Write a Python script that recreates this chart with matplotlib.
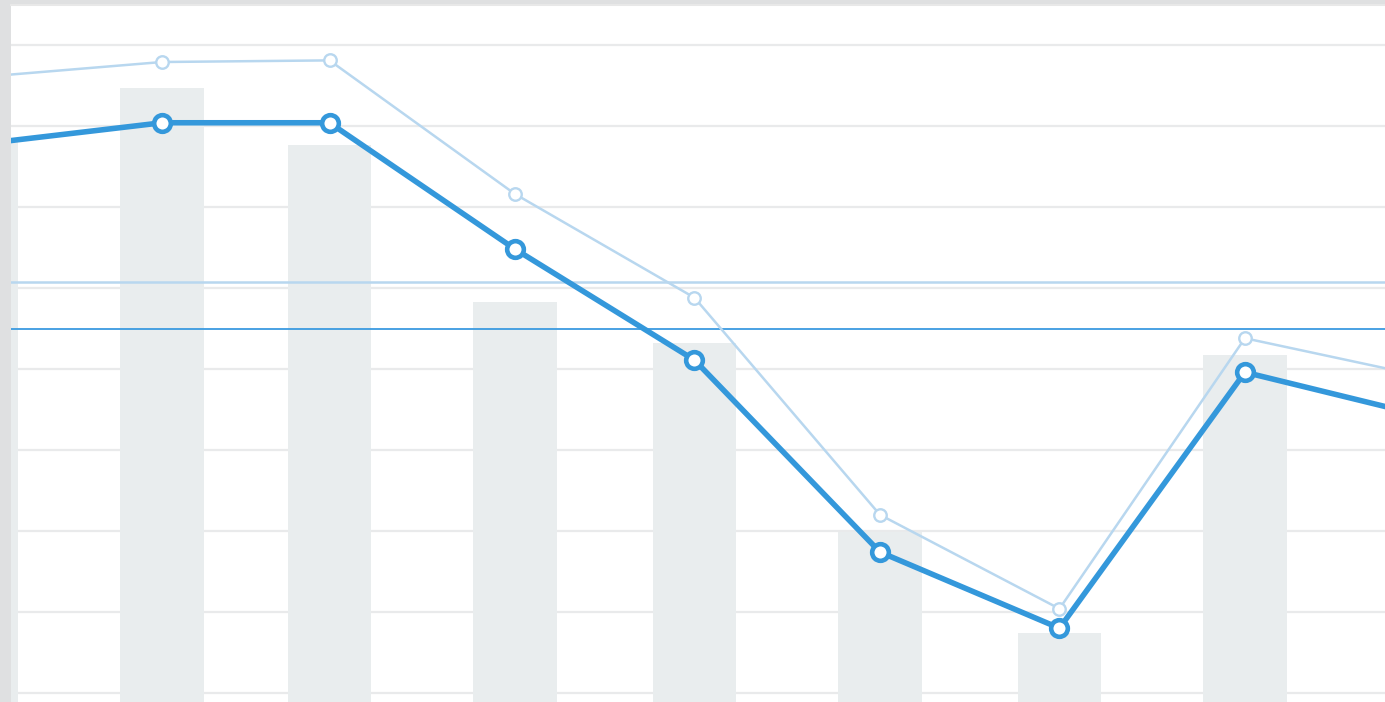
import pandas as pd
import matplotlib
matplotlib.use("Agg")
import matplotlib.pyplot as plt

# monthly data, Jan..Sep (only Feb..Aug fully visible)
months = pd.date_range("2019-01-01", "2019-09-01", freq="MS")
bars = [78.3, 84.7, 77.7, 58.3, 53.2, 29.9, 17.4, 51.7, 45.0]
main_line = [77.7, 80.4, 80.4, 64.8, 51.1, 27.4, 18.0, 49.6, 44.0]
prev_line = [86.0, 87.9, 88.1, 71.6, 58.8, 32.0, 20.4, 53.8, 48.9]
avg_prev = 60.7
avg_main = 54.9
grid_vals = list(range(10, 100, 10))

W, H = 1385, 702
px_per_day = 5.983
fig = plt.figure(figsize=(W / 100, H / 100), dpi=100, facecolor="#dfe0e1")
ax = fig.add_axes([11 / W, 0, (W - 11) / W, (H - 5) / H])
ax.set_facecolor("white")

x0 = pd.Timestamp("2019-02-01") - pd.Timedelta(days=(162 - 11) / px_per_day)
x1 = x0 + pd.Timedelta(days=(W - 11) / px_per_day)
ax.set_xlim(x0, x1)
ax.set_ylim(10 - 9 / 8.1, 10 + 688 / 8.1)

for g in grid_vals:
    ax.axhline(g, color="#e9eaeb", lw=1.6, zorder=0)

ax.bar(months, bars, width=14, bottom=0, color="#e9edee", zorder=1)

ax.axhline(avg_prev, color="#b8d7ef", lw=1.8, zorder=2)
ax.axhline(avg_main, color="#3a9ae0", lw=1.3, zorder=2)

ax.plot(months, prev_line, color="#b8d7ef", lw=1.8, marker="o", ms=9,
        mfc="white", mec="#b8d7ef", mew=1.7, zorder=3)
ax.plot(months, main_line, color="#3498db", lw=4, marker="o", ms=12,
        mfc="white", mec="#3498db", mew=3.3, zorder=4)

ax.set_xticks([])
ax.set_yticks([])
for side in ["left", "right", "bottom"]:
    ax.spines[side].set_visible(False)
ax.spines["top"].set_color("#e8e8e8")
ax.spines["top"].set_linewidth(1.5)

fig.savefig("out.png", dpi=100, facecolor=fig.get_facecolor())
